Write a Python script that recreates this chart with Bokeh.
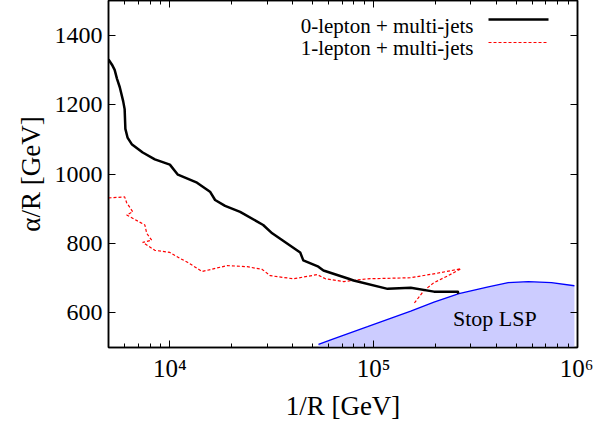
from bokeh.plotting import figure
from bokeh.models import (Range1d, LogAxis, LinearAxis, LogTicker, FixedTicker,
                          CustomJSTickFormatter, Label, Arrow)
from bokeh.embed import file_html
from bokeh.resources import INLINE

# ---------------- data ----------------
lep0_x = [5000, 5200, 5360, 5500, 5680, 5900, 6000, 6050, 6200, 6500, 7360, 8440,
          10000, 10950, 13590, 15740, 16670, 18660, 22120, 28700, 31780, 43600,
          45150, 53550, 56700, 75400, 79700, 117000, 152000, 197600, 259000, 260000]
lep0_y = [1330, 1315, 1300, 1275, 1250, 1210, 1187, 1130, 1105, 1086, 1062, 1042,
          1027, 998, 975, 949, 925, 908, 891, 853, 829, 774,
          751, 733, 722, 698, 693, 669, 672, 661, 661, 655]

lep1_x = [5000, 6000, 6140, 6580, 6140, 7540, 7700, 8150, 7360, 8440, 10000, 11200,
          12270, 14380, 19100, 23950, 28400, 31100, 40400, 52900, 58000, 71200,
          93300, 152000, 214000, 268000, 232000, 197600, 176400, 157400]
lep1_y = [931, 934, 917, 891, 882, 853, 829, 809, 803, 780, 774, 757,
          745, 719, 736, 733, 725, 707, 698, 710, 698, 690,
          698, 701, 716, 727, 707, 687, 664, 626]

stop_x = [53600, 63500, 93300, 152000, 197600, 262000, 365000, 457000, 574000, 745000, 966000]
stop_y = [509, 525, 560, 605, 631, 655, 675, 687, 690, 687, 678]

x_limits = [5000, 1e6]
y_limits = [500, 1500]
y_ticks = [600, 800, 1000, 1200, 1400]
legend_labels = ["0-lepton + multi-jets", "1-lepton + multi-jets"]
region_label = "Stop LSP"
region_label_pos = [245000, 585]
x_label = "1/R [GeV]"
y_label = "α/R [GeV]"

FONT = "Liberation Serif"

p = figure(width=593, height=426, x_axis_type="log",
           x_range=Range1d(*x_limits), y_range=Range1d(*y_limits),
           output_backend="svg", toolbar_location=None,
           min_border_left=108, min_border_right=16, min_border_top=0,
           min_border_bottom=79)
p.background_fill_color = "white"
p.border_fill_color = "white"
p.outline_line_color = "black"
p.outline_line_width = 1.5
p.xgrid.visible = False
p.ygrid.visible = False

# Stop LSP region (fill down to the bottom of the y range)
poly_x = stop_x + [stop_x[-1], stop_x[0]]
poly_y = stop_y + [y_limits[0], y_limits[0]]
p.patch(poly_x, poly_y, fill_color="#ccccff", line_color=None)
p.line(stop_x, stop_y, line_color="#0000ff", line_width=1.3)

# curves
p.line(lep1_x, lep1_y, line_color="#ff0000", line_width=1.2, line_dash="3 2")
p.line(lep0_x, lep0_y, line_color="black", line_width=2.5, line_join="round")

# axes styling
sup = CustomJSTickFormatter(code="""
const s = {'0':'\u2070','1':'\u00b9','2':'\u00b2','3':'\u00b3','4':'\u2074','5':'\u2075','6':'\u2076','7':'\u2077','8':'\u2078','9':'\u2079'};
const e = String(Math.round(Math.log10(tick)));
let r = '';
for (const c of e) r += s[c];
return '10' + r;
""")

def style_axis(ax, labels=True):
    ax.axis_line_color = "black"
    ax.axis_line_width = 1.5
    ax.major_tick_in = 7
    ax.major_tick_out = 0
    ax.minor_tick_in = 4
    ax.minor_tick_out = 0
    ax.major_tick_line_color = "black"
    ax.minor_tick_line_color = "black"
    ax.major_tick_line_width = 1
    ax.minor_tick_line_width = 1
    ax.major_label_text_color = "black"
    ax.axis_label_text_color = "black"
    if not labels:
        ax.major_label_text_font_size = "0px"
        ax.major_label_standoff = 0
        ax.axis_label = None

xa = p.xaxis[0]
xa.ticker = LogTicker(num_minor_ticks=10)
xa.formatter = sup
style_axis(xa)
xa.major_label_text_font = FONT
xa.major_label_text_font_size = "25px"
xa.major_label_standoff = 7
xa.axis_label = x_label
xa.axis_label_text_font = FONT
xa.axis_label_text_font_style = "normal"
xa.axis_label_text_font_size = "27px"
xa.axis_label_standoff = 6

ya = p.yaxis[0]
ya.ticker = FixedTicker(ticks=y_ticks)
style_axis(ya)
ya.minor_tick_line_color = None
ya.major_label_text_font = FONT
ya.major_label_text_font_size = "24px"
ya.major_label_standoff = 6
ya.axis_label = y_label
ya.axis_label_text_font = FONT
ya.axis_label_text_font_style = "normal"
ya.axis_label_text_font_size = "27px"
ya.axis_label_standoff = 6

top = LogAxis(ticker=LogTicker(num_minor_ticks=10), formatter=CustomJSTickFormatter(code="return ''"))
style_axis(top, labels=False)
p.add_layout(top, "above")
right = LinearAxis(ticker=FixedTicker(ticks=y_ticks), formatter=CustomJSTickFormatter(code="return ''"))
style_axis(right, labels=False)
right.minor_tick_line_color = None
p.add_layout(right, "right")

# region label
p.add_layout(Label(x=region_label_pos[0], y=region_label_pos[1], text=region_label,
                   text_font=FONT, text_font_size="22px", text_align="left",
                   text_baseline="alphabetic", text_color="black"))

# legend (text on the left, sample on the right), frame-relative screen units
leg_styles = [dict(line_color="black", line_width=2.5),
              dict(line_color="#ff0000", line_width=1.2, line_dash="3 2")]
for i, (lab, st) in enumerate(zip(legend_labels, leg_styles)):
    p.add_layout(Label(x=365, y=322 - 22 * i, x_units="screen", y_units="screen",
                       text=lab, text_font=FONT, text_font_size="21px", text_color="black",
                       text_align="right", text_baseline="alphabetic"))
    p.add_layout(Arrow(end=None, x_start=380, x_end=440, y_start=328 - 23 * i, y_end=328 - 23 * i,
                       start_units="screen", end_units="screen", **st))

open("out.html", "w").write(file_html(p, INLINE))
